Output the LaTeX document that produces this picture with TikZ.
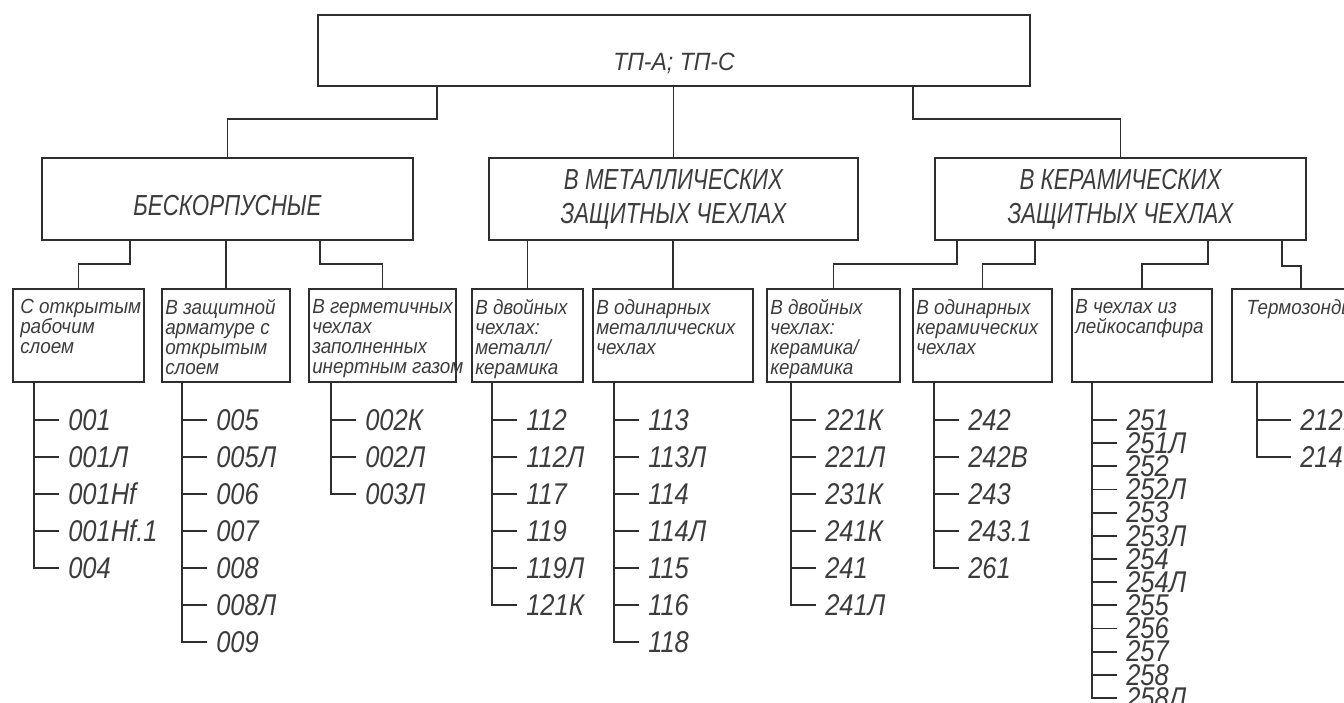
\documentclass[tikz,border=0pt]{standalone}
\usepackage{fontspec}
\setmainfont{Liberation Sans}
\newfontfamily\gostfont{Liberation Sans}[FakeStretch=0.92]
\newfontfamily\gostwide{Liberation Sans}[FakeStretch=0.77]
\newfontfamily\gostnum{Liberation Sans}[FakeStretch=0.85]
\usetikzlibrary{positioning,calc}
\definecolor{InkGray}{HTML}{2E2E2E}
\definecolor{TextGray}{HTML}{3C3C3C}

\begin{document}
\begin{tikzpicture}[x=1pt,y=-1pt,
  topbox/.style={draw=InkGray, line width=2pt, rectangle, minimum width=712pt, minimum height=71pt,
                 inner sep=0pt, text height=45pt, text depth=6pt,
                 font=\gostfont\itshape\fontsize{25pt}{28pt}\selectfont, text=TextGray},
  groupbox/.style={draw=InkGray, line width=2pt, rectangle, minimum width=371pt, minimum height=82pt,
                   inner sep=0pt, align=center, font=\gostwide\itshape\fontsize{29pt}{34pt}\selectfont, text=TextGray},
  kindbox/.style={draw=InkGray, line width=1.9pt, rectangle, minimum height=93pt, inner sep=0pt},
  kindtext/.style={anchor=north west, align=left, inner sep=2pt,
                   font=\gostfont\itshape\fontsize{20.5pt}{20pt}\selectfont, text=TextGray},
  item/.style={anchor=west, inner xsep=9pt, inner ysep=0pt,
               font=\gostnum\itshape\fontsize{30pt}{30pt}\selectfont, text=TextGray},
  link/.style={draw=InkGray, line width=1.9pt}]

  \useasboundingbox (0,0) rectangle (1344,702);

  % ===== top level =====
  \node[topbox] (top) at (674,50.5) {ТП-А; ТП-С};

  % ===== groups =====
  \node[groupbox, text height=36pt, text depth=4pt] (b1) at (227.5,199) {БЕСКОРПУСНЫЕ};
  \node[groupbox, minimum width=369pt] (b2) at (673.5,199) {В МЕТАЛЛИЧЕСКИХ\\ ЗАЩИТНЫХ ЧЕХЛАХ};
  \node[groupbox] (b3) at (1120.5,199) {В КЕРАМИЧЕСКИХ\\ ЗАЩИТНЫХ ЧЕХЛАХ};

  \draw[link] ([xshift=-237pt]top.south) -- ++(0,32) -| (b1.north);
  \draw[link] (top.south -| b2.north) -- (b2.north);
  \draw[link] ([xshift=239pt]top.south) -- ++(0,32) -| (b3.north);

  % ===== kinds =====
  \node[kindbox, minimum width=131pt] (ca) at (78.5,335.5) {};
  \node[kindbox, minimum width=128pt] (cb) at (226,335.5) {};
  \node[kindbox, minimum width=147pt] (cc) at (382.5,335.5) {};
  \node[kindbox, minimum width=111pt] (cd) at (527.5,335.5) {};
  \node[kindbox, minimum width=160pt] (ce) at (673,335.5) {};
  \node[kindbox, minimum width=133pt] (cf) at (833.5,335.5) {};
  \node[kindbox, minimum width=139pt] (cg) at (982.5,335.5) {};
  \node[kindbox, minimum width=140pt] (ch) at (1142,335.5) {};
  \node[kindbox, minimum width=138pt] (ci) at (1301,335.5) {};

  \node[kindtext] (ca-t) at ($(ca.north west)+(6,9)$) {С открытым\\ рабочим\\ слоем};
  \node[kindtext] (cb-t) at ($(cb.north west)+(2,9)$) {В защитной\\ арматуре с\\ открытым\\ слоем};
  \node[kindtext] (cc-t) at ($(cc.north west)+(2,9)$) {В герметичных\\ чехлах\\ заполненных\\ инертным газом};
  \node[kindtext] (cd-t) at ($(cd.north west)+(2,9)$) {В двойных\\ чехлах:\\ металл/\\ керамика};
  \node[kindtext] (ce-t) at ($(ce.north west)+(2,9)$) {В одинарных\\ металлических\\ чехлах};
  \node[kindtext] (cf-t) at ($(cf.north west)+(2,9)$) {В двойных\\ чехлах:\\ керамика/\\ керамика};
  \node[kindtext] (cg-t) at ($(cg.north west)+(2,9)$) {В одинарных\\ керамических\\ чехлах};
  \node[kindtext] (ch-t) at ($(ch.north west)+(2,9)$) {В чехлах из\\ лейкосапфира};
  \node[kindtext, anchor=north] (ci-t) at ($(ci.north)+(0,9)$) {Термозонды};

  \draw[link] ([xshift=-97.5pt]b1.south) -- ++(0,23) -| (ca.north);
  \draw[link] (b1.south -| cb.north) -- (cb.north);
  \draw[link] ([xshift=92.5pt]b1.south) -- ++(0,23) -| (cc.north);
  \draw[link] (b2.south -| cd.north) -- (cd.north);
  \draw[link] (b2.south -| ce.north) -- (ce.north);
  \draw[link] ([xshift=-163.5pt]b3.south) -- ++(0,23) -| (cf.north);
  \draw[link] ([xshift=-85.5pt]b3.south) -- ++(0,23) -| (cg.north);
  \draw[link] ([xshift=87.5pt]b3.south) -- ++(0,23) -| (ch.north);
  \draw[link] ([xshift=161.5pt]b3.south) -- ++(0,25) -| (ci.north);

  % ===== type lists =====
  \coordinate (ca-s) at ($(ca.south west)+(22,0)$);
  \foreach \t [count=\i] in {001,001Л,001Hf,001Hf.1,004}
    \node[item] (ca-\i) at ($(ca-s)+(25,37*\i)$) {\t};
  \draw[link] (ca-s) |- (ca-5.west);
  \foreach \i in {1,...,4} \draw[link] (ca-s |- ca-\i.west) -- (ca-\i.west);

  \coordinate (cb-s) at ($(cb.south west)+(21,0)$);
  \foreach \t [count=\i] in {005,005Л,006,007,008,008Л,009}
    \node[item] (cb-\i) at ($(cb-s)+(25,37*\i)$) {\t};
  \draw[link] (cb-s) |- (cb-7.west);
  \foreach \i in {1,...,6} \draw[link] (cb-s |- cb-\i.west) -- (cb-\i.west);

  \coordinate (cc-s) at ($(cc.south west)+(23,0)$);
  \foreach \t [count=\i] in {002К,002Л,003Л}
    \node[item] (cc-\i) at ($(cc-s)+(25,37*\i)$) {\t};
  \draw[link] (cc-s) |- (cc-3.west);
  \foreach \i in {1,2} \draw[link] (cc-s |- cc-\i.west) -- (cc-\i.west);

  \coordinate (cd-s) at ($(cd.south west)+(21,0)$);
  \foreach \t [count=\i] in {112,112Л,117,119,119Л,121К}
    \node[item] (cd-\i) at ($(cd-s)+(25,37*\i)$) {\t};
  \draw[link] (cd-s) |- (cd-6.west);
  \foreach \i in {1,...,5} \draw[link] (cd-s |- cd-\i.west) -- (cd-\i.west);

  \coordinate (ce-s) at ($(ce.south west)+(22,0)$);
  \foreach \t [count=\i] in {113,113Л,114,114Л,115,116,118}
    \node[item] (ce-\i) at ($(ce-s)+(25,37*\i)$) {\t};
  \draw[link] (ce-s) |- (ce-7.west);
  \foreach \i in {1,...,6} \draw[link] (ce-s |- ce-\i.west) -- (ce-\i.west);

  \coordinate (cf-s) at ($(cf.south west)+(25,0)$);
  \foreach \t [count=\i] in {221К,221Л,231К,241К,241,241Л}
    \node[item] (cf-\i) at ($(cf-s)+(25,37*\i)$) {\t};
  \draw[link] (cf-s) |- (cf-6.west);
  \foreach \i in {1,...,5} \draw[link] (cf-s |- cf-\i.west) -- (cf-\i.west);

  \coordinate (cg-s) at ($(cg.south west)+(22,0)$);
  \foreach \t [count=\i] in {242,242В,243,243.1,261}
    \node[item] (cg-\i) at ($(cg-s)+(25,37*\i)$) {\t};
  \draw[link] (cg-s) |- (cg-5.west);
  \foreach \i in {1,...,4} \draw[link] (cg-s |- cg-\i.west) -- (cg-\i.west);

  \coordinate (ch-s) at ($(ch.south west)+(21,0)$);
  \foreach \t [count=\i] in {251,251Л,252,252Л,253,253Л,254,254Л,255,256,257,258,258Л}
    \node[item] (ch-\i) at ($(ch-s)+(25,{13.83+23.17*\i})$) {\t};
  \draw[link] (ch-s) |- (ch-13.west);
  \foreach \i in {1,...,12} \draw[link] (ch-s |- ch-\i.west) -- (ch-\i.west);

  \coordinate (ci-s) at ($(ci.south west)+(26,0)$);
  \foreach \t [count=\i] in {212К,214}
    \node[item] (ci-\i) at ($(ci-s)+(34,37*\i)$) {\t};
  \draw[link] (ci-s) |- (ci-2.west);
  \draw[link] (ci-s |- ci-1.west) -- (ci-1.west);

\end{tikzpicture}
\end{document}
